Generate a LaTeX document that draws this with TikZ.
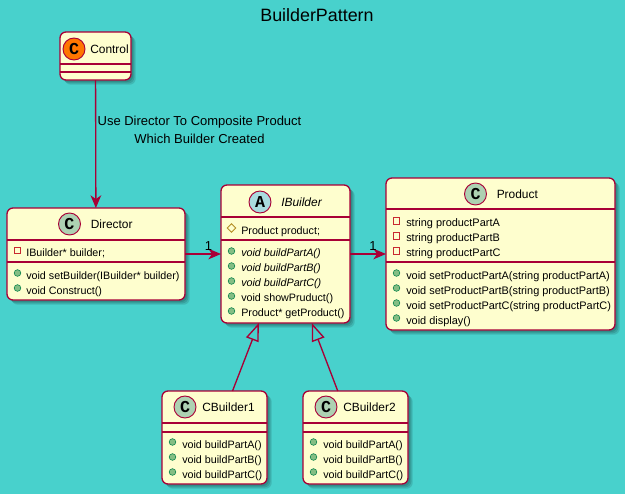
\documentclass[tikz,border=0pt]{standalone}
\usepackage{fontspec}
\setmainfont{Liberation Sans}
\newfontfamily\spotfont{Liberation Mono}
\usetikzlibrary{arrows.meta,shadows,shapes.geometric}
\definecolor{bgturq}{HTML}{48D1CC}
\definecolor{boxfill}{HTML}{FEFECE}
\definecolor{umlred}{HTML}{A80036}
\definecolor{spotC}{HTML}{ADD1B2}
\definecolor{spotA}{HTML}{A9DCDF}
\definecolor{spotO}{HTML}{FF7700}
\definecolor{pubfill}{HTML}{84BE84}
\definecolor{publine}{HTML}{038048}
\definecolor{privline}{HTML}{C82930}
\definecolor{protline}{HTML}{B38D22}
\tikzset{
    classbox/.style 2 args={draw=umlred, fill=boxfill, line width=1pt, rounded corners=4.5pt,
        minimum width=#1*0.75pt, minimum height=#2*0.75pt, inner sep=0pt, outer sep=0pt,
        general shadow={shadow xshift=1.5pt, shadow yshift=-1.5pt, fill=black, opacity=0.12},
        general shadow={shadow xshift=2.5pt, shadow yshift=-2.5pt, fill=black, opacity=0.12},
        general shadow={shadow xshift=3.5pt, shadow yshift=-3.5pt, fill=black, opacity=0.12}},
    sepline/.style={draw=umlred, line width=0.95pt},
    spot/.style={circle, draw=umlred, line width=0.7pt, minimum size=16.5pt, inner sep=0pt,
        font=\spotfont\bfseries\fontsize{12.5}{13}\selectfont},
    classname/.style={anchor=base west, inner sep=0pt, font=\fontsize{8.95}{11}\selectfont},
    member/.style={anchor=base west, inner sep=0pt, font=\fontsize{8.05}{10}\selectfont},
    widemember/.style={anchor=base west, inner sep=0pt, font=\fontsize{8.2}{10}\selectfont},
    pubmark/.style={circle, draw=publine, fill=pubfill, line width=0.4pt, minimum size=5pt, inner sep=0pt},
    privmark/.style={rectangle, draw=privline, line width=0.7pt, minimum size=5pt, inner sep=0pt},
    protmark/.style={diamond, draw=protline, line width=0.6pt, minimum size=6.6pt, inner sep=0pt},
    assoc/.style={draw=umlred, line width=1pt, -{Stealth[length=9.5pt, width=8pt, inset=2.8pt]}},
    inherit/.style={draw=umlred, line width=1pt, -{Triangle[open, length=13.5pt, width=10pt]}},
    linklabel/.style={inner sep=0pt, font=\fontsize{9.75}{11.5}\selectfont},
}
\begin{document}
\begin{tikzpicture}[x=0.75pt, y=-0.75pt]
    % Background
    \fill[bgturq] (0, 0) rectangle (625, 494);
    \useasboundingbox (0, 0) rectangle (625, 494);
    \node[inner sep=0pt, font=\fontsize{13.4}{15}\selectfont] (title) at (317, 15.5) {BuilderPattern};

    % Class boxes
    \node[classbox={71}{48}] (control) at (95.5, 56) {};
    \node[classbox={178}{92}] (director) at (96, 254) {};
    \node[classbox={129}{138}] (ibuilder) at (285.5, 254) {};
    \node[classbox={229}{152}] (product) at (500.5, 254) {};
    \node[classbox={105}{93}] (cbone) at (214.5, 437.5) {};
    \node[classbox={105}{93}] (cbtwo) at (355.5, 437.5) {};

    % Compartment lines
    \draw[sepline] (60, 64) -- (131, 64) (60, 72) -- (131, 72);
    \draw[sepline] (7, 240) -- (185, 240) (7, 262) -- (185, 262);
    \draw[sepline] (221, 217) -- (350, 217) (221, 240) -- (350, 240);
    \draw[sepline] (386, 209) -- (615, 209) (386, 262) -- (615, 262);
    \draw[sepline] (162, 423) -- (267, 423) (162, 432) -- (267, 432);
    \draw[sepline] (303, 423) -- (408, 423) (303, 432) -- (408, 432);

    % Spots and class names
    \node[spot, fill=spotO] (controlspot) at (74, 49) {C};
    \node[spot, fill=spotC] (directorspot) at (69.5, 224) {C};
    \node[spot, fill=spotA] (ibuilderspot) at (260, 202) {A};
    \node[spot, fill=spotC] (productspot) at (475.5, 194) {C};
    \node[spot, fill=spotC] (cbonespot) at (185, 407) {C};
    \node[spot, fill=spotC] (cbtwospot) at (326, 407) {C};
    \node[classname] (controlname) at (90, 53.5) {Control};
    \node[classname] (directorname) at (90.5, 228.5) {Director};
    \node[classname, font=\fontsize{8.95}{11}\selectfont\itshape] (ibuildername) at (281, 206.5) {IBuilder};
    \node[classname] (productname) at (496.5, 198.5) {Product};
    \node[classname] (cbonename) at (202, 411.5) {CBuilder1};
    \node[classname] (cbtwoname) at (343, 411.5) {CBuilder2};

    % Director members
    \node[privmark] (dpriv) at (17.5, 250.5) {};
    \node[member] (dfield) at (26, 256) {IBuilder* builder;};
    \foreach \y/\txt in {275/void setBuilder(IBuilder* builder), 290/void Construct()} {
        \node[pubmark] (dpub\y) at (17.5, \y-2) {};
        \node[member] (dtxt\y) at (26, \y+4) {\txt};
    }

    % IBuilder members
    \node[protmark] (iprot) at (231.5, 228) {};
    \node[member] (ifield) at (241, 234) {Product product;};
    \foreach \y/\txt in {252/void buildPartA(), 267/void buildPartB(), 282/void buildPartC()} {
        \node[pubmark] (ipub\y) at (231.5, \y-1) {};
        \node[member, font=\fontsize{8.05}{10}\selectfont\itshape] (itxt\y) at (241, \y+4) {\txt};
    }
    \foreach \y/\txt in {297/void showPruduct(), 312/Product* getProduct()} {
        \node[pubmark] (ipub\y) at (231.5, \y-1) {};
        \node[member] (itxt\y) at (241, \y+4) {\txt};
    }

    % Product members
    \foreach \y/\txt in {222/string productPartA, 237/string productPartB, 252/string productPartC} {
        \node[privmark] (ppriv\y) at (396.5, \y-1) {};
        \node[widemember] (pfield\y) at (406, \y+4) {\txt};
    }
    \foreach \y/\txt in {275/void setProductPartA(string productPartA), 290/void setProductPartB(string productPartB), 305/void setProductPartC(string productPartC), 320/void display()} {
        \node[pubmark] (ppub\y) at (396.5, \y-2) {};
        \node[widemember] (ptxt\y) at (406, \y+4) {\txt};
    }

    % CBuilder members
    \foreach \y/\txt in {444/void buildPartA(), 459/void buildPartB(), 474/void buildPartC()} {
        \node[pubmark] (apub\y) at (172.5, \y-2) {};
        \node[member] (atxt\y) at (182, \y+4) {\txt};
        \node[pubmark] (bpub\y) at (313.5, \y-2) {};
        \node[member] (btxt\y) at (323, \y+4) {\txt};
    }

    % Connectors
    \draw[assoc] (control) -- (director);
    \draw[assoc] (director) -- (ibuilder);
    \draw[assoc] (ibuilder) -- (product);
    \draw[inherit] (cbone) -- (ibuilder);
    \draw[inherit] (cbtwo) -- (ibuilder);

    % Labels on the connectors
    \node[linklabel, align=center] (uselabel) at (199.5, 130) {Use Director To Composite Product\\[1.6pt]Which Builder Created};
    \node[linklabel] (oneleft) at (208.5, 246) {1};
    \node[linklabel] (oneright) at (373, 246) {1};
\end{tikzpicture}
\end{document}
